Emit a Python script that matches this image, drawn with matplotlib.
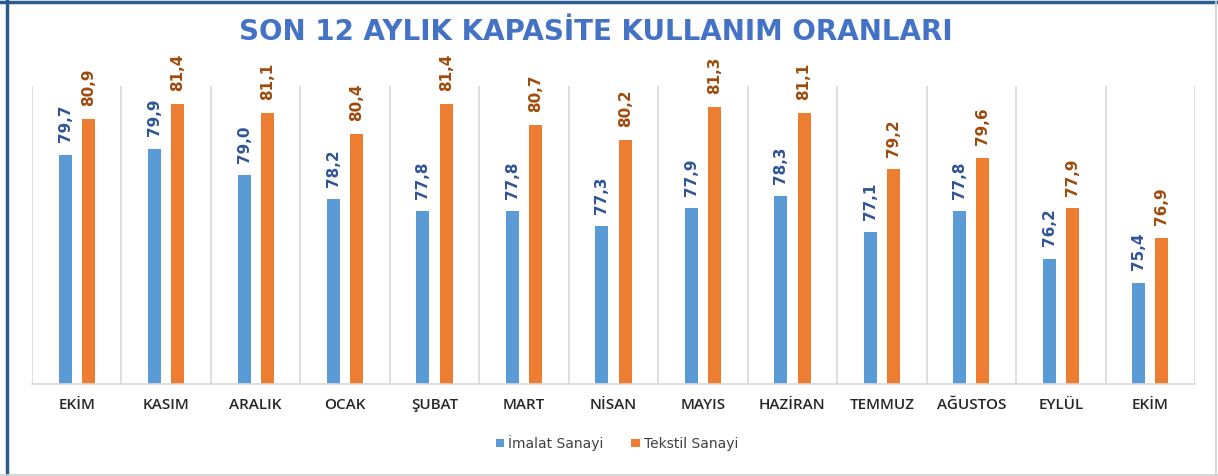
import matplotlib.pyplot as plt
from matplotlib.lines import Line2D
import numpy as np

months = ['EKİM', 'KASIM', 'ARALIK', 'OCAK', 'ŞUBAT', 'MART', 'NİSAN',
          'MAYIS', 'HAZİRAN', 'TEMMUZ', 'AĞUSTOS', 'EYLÜL', 'EKİM']
imalat = [79.7, 79.9, 79.0, 78.2, 77.8, 77.8, 77.3, 77.9, 78.3, 77.1, 77.8, 76.2, 75.4]
tekstil = [80.9, 81.4, 81.1, 80.4, 81.4, 80.7, 80.2, 81.3, 81.1, 79.2, 79.6, 77.9, 76.9]
series_names = ['İmalat Sanayi', 'Tekstil Sanayi']

BLUE = '#5B9BD5'
ORANGE = '#ED7D31'
GRID = '#D9D9D9'

fig = plt.figure(figsize=(12.18, 4.76), dpi=100)
ax = fig.add_axes([32 / 1218, 1 - 384 / 476, (1195 - 32) / 1218, (384 - 86) / 476])

x = np.arange(len(months))
w = 0.145
off = 0.13
b1 = ax.bar(x - off, imalat, w, color=BLUE, label=series_names[0])
b2 = ax.bar(x + off, tekstil, w, color=ORANGE, label=series_names[1])

ax.set_ylim(72, 82)
ax.set_xlim(-0.5, len(months) - 0.5)

# value labels, rotated like the original
for xi, v in zip(x, imalat):
    ax.annotate(f'{v:.1f}'.replace('.', ','), (xi - off, v), xytext=(0, 9),
                textcoords='offset points', rotation=90, ha='center', va='bottom',
                fontsize=11, fontweight='bold', color='#2F5597', annotation_clip=False)
for xi, v in zip(x, tekstil):
    ax.annotate(f'{v:.1f}'.replace('.', ','), (xi + off, v), xytext=(0, 9),
                textcoords='offset points', rotation=90, ha='center', va='bottom',
                fontsize=11, fontweight='bold', color='#9E4A0C', annotation_clip=False)

# category separators
for s in np.arange(-0.5, len(months), 1.0):
    ax.axvline(s, color=GRID, lw=1.2, zorder=0)

for sp in ['top', 'left', 'right']:
    ax.spines[sp].set_visible(False)
ax.spines['bottom'].set_color(GRID)
ax.spines['bottom'].set_linewidth(1.2)
ax.set_yticks([])
ax.set_xticks(x)
ax.set_xticklabels(months, fontsize=11, fontfamily='Open Sans', fontweight='semibold',
                   color='#262626')
ax.tick_params(axis='x', length=0, pad=10)

fig.text(596 / 1218, 1 - 32 / 476, 'SON 12 AYLIK KAPASİTE KULLANIM ORANLARI',
         ha='center', va='center', fontsize=20, fontweight='bold', color='#4472C4')

fig.legend(handles=[b1, b2], loc='center', bbox_to_anchor=(617 / 1218, 1 - 443 / 476),
           ncol=2, frameon=False, fontsize=10, handlelength=0.6, handleheight=0.6,
           columnspacing=2.0, handletextpad=0.3, labelcolor='#404040')

# screenshot frame
fig.add_artist(Line2D([0, 1], [1 - 1.5 / 476] * 2, color='#2B5C8F', lw=2.5))
fig.add_artist(Line2D([7 / 1218] * 2, [0, 1], color='#2B5C8F', lw=2.5))
fig.add_artist(Line2D([1215.5 / 1218] * 2, [0, 1], color='#D0D0D0', lw=1.2))
fig.add_artist(Line2D([0, 1], [1 - 474.5 / 476] * 2, color='#D0D0D0', lw=1.2))

fig.savefig('out.png', dpi=100)
